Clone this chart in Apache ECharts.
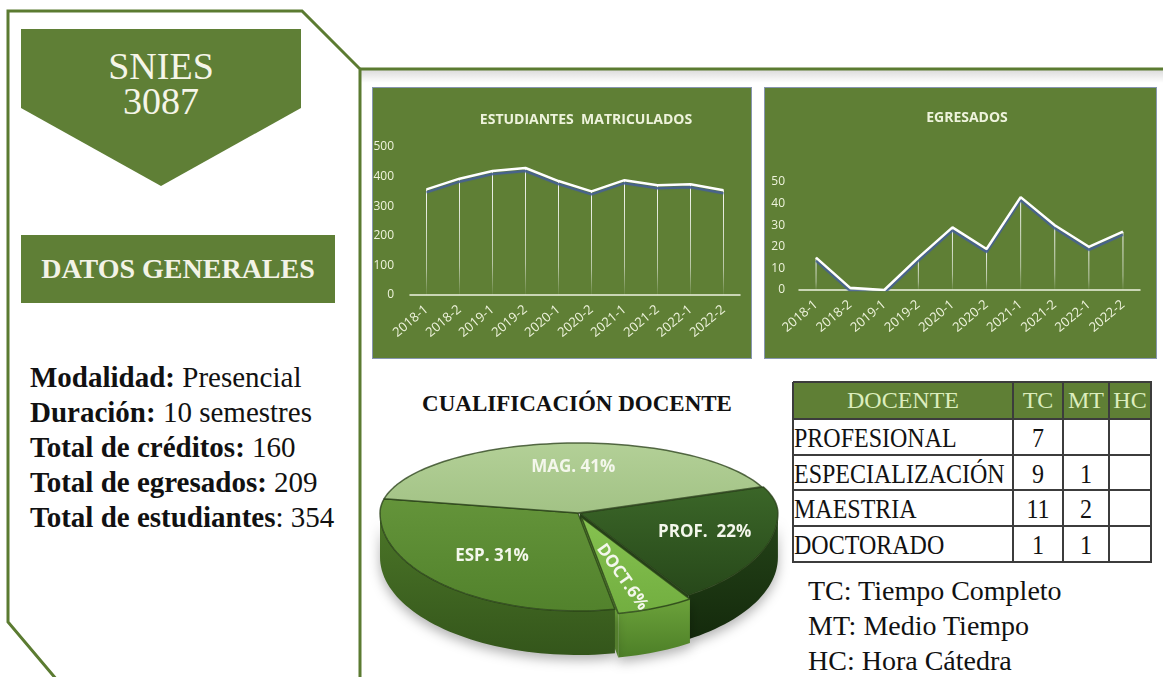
<!DOCTYPE html>
<html><head><meta charset="utf-8">
<script src="https://cdn.jsdelivr.net/npm/echarts@6/dist/echarts.min.js"></script>
<style>
html,body{margin:0;padding:0;background:#fff;}
#page{position:relative;width:1163px;height:677px;overflow:hidden;background:#fff;font-family:"Liberation Serif","Times New Roman",serif;color:#111;}
.abs{position:absolute;}
#chart{position:absolute;left:0;top:0;width:1163px;height:677px;z-index:5;}
.cell{position:absolute;font-size:24px;line-height:31px;padding-top:5px;box-sizing:border-box;white-space:nowrap;}
.cell span{display:inline-block;transform:scaleY(1.1);transform-origin:50% 80%;}
.hdr{position:absolute;font-size:24px;line-height:37px;color:#dcedbd;text-align:center;white-space:nowrap;}
.vl{position:absolute;width:1.6px;background:#3c3c3c;}
.hl{position:absolute;height:1.6px;background:#3c3c3c;}
</style></head><body>
<div id="page">
 <svg class="abs" width="1163" height="677" style="left:0;top:0">
   <defs><linearGradient id="sh" x1="0" y1="0" x2="0" y2="1"><stop offset="0" stop-color="#000" stop-opacity="0.14"/><stop offset="1" stop-color="#000" stop-opacity="0"/></linearGradient></defs>
   <rect x="361" y="70" width="802" height="13" fill="url(#sh)"/>
   <polyline points="57,680 8,622 8,11 302,11 360,69 360,680" fill="none" stroke="#5b7b31" stroke-width="3"/>
   <line x1="360" y1="69" x2="1163" y2="69" stroke="#5b7b31" stroke-width="3"/>
   <polygon points="21,29 301,29 301,108 161,186 21,108" fill="#5f7f36"/>
   <rect x="21" y="235" width="314" height="68" fill="#5f7f36"/>
   <rect x="372.5" y="87.5" width="379" height="271" fill="#5f7f35" stroke="#8796b0" stroke-width="1"/>
   <rect x="764.5" y="87.5" width="392" height="271" fill="#5f7f35" stroke="#8796b0" stroke-width="1"/>
 </svg>
 <div class="abs" style="left:21px;top:49px;width:280px;text-align:center;font-size:38px;line-height:35px;color:#f5f5e8;">SNIES<br>3087</div>
 <div class="abs" style="left:21px;top:235px;width:314px;text-align:center;font-size:28px;line-height:68px;font-weight:bold;color:#f3f3e6;">DATOS GENERALES</div>
 <div id="general" class="abs" style="left:30px;top:360px;font-size:29px;line-height:35px;white-space:nowrap;"></div>
 <div class="abs" style="left:377px;top:390px;width:400px;text-align:center;font-size:23px;line-height:28px;font-weight:bold;">CUALIFICACIÓN DOCENTE</div>
 <div id="table" class="abs" style="left:0;top:0;"></div>
 <div id="legend" class="abs" style="left:808px;top:573px;font-size:28px;line-height:35px;white-space:nowrap;"></div>
 <div id="chart"></div>
</div>
<script>
// ---------- data ----------
const semesters = ['2018-1','2018-2','2019-1','2019-2','2020-1','2020-2','2021-1','2021-2','2022-1','2022-2'];
const matriculados = [357, 393, 419, 429, 385, 350, 388, 371, 374, 354];
const egresados = [15, 1, 0, 15, 29, 19, 43, 30, 20, 27];
const matriculadosTicks = [0, 100, 200, 300, 400, 500];
const egresadosTicks = [0, 10, 20, 30, 40, 50];
const docenteRows = ['PROFESIONAL', 'ESPECIALIZACIÓN', 'MAESTRIA', 'DOCTORADO'];
const docenteCols = ['TC', 'MT', 'HC'];
const tiempoCompleto = [7, 9, 11, 1];
const medioTiempo = [null, 1, 2, 1];
const horaCatedra = [null, null, null, null];
const pieShortNames = ['PROF.', 'ESP.', 'MAG.', 'DOCT.'];
const generalLabels = ['Modalidad:', 'Duración:', 'Total de créditos:', 'Total de egresados:', 'Total de estudiantes'];
const generalValues = [' Presencial', ' 10 semestres', ' 160', ' 209', ': 354'];
const legendLines = ['TC: Tiempo Completo', 'MT: Medio Tiempo', 'HC: Hora Cátedra'];

// ---------- static text ----------
document.getElementById('general').innerHTML = generalLabels.map((l, i) => '<b>' + l + '</b>' + generalValues[i]).join('<br>');
document.getElementById('legend').innerHTML = legendLines.join('<br>');

// table layout (positions only)
const colX = [793, 1013, 1063, 1109, 1151];
const rowY = [382, 419, 455, 490, 526, 562];
(function buildTable(){
  const t = document.getElementById('table');
  let h = '<div class="abs" style="left:' + colX[0] + 'px;top:' + rowY[0] + 'px;width:' + (colX[4]-colX[0]) + 'px;height:' + (rowY[1]-rowY[0]) + 'px;background:#5f7f35;"></div>';
  const headers = ['DOCENTE'].concat(docenteCols);
  headers.forEach((txt, c) => {
    h += '<div class="hdr" style="left:' + colX[c] + 'px;top:' + rowY[0] + 'px;width:' + (colX[c+1]-colX[c]) + 'px;">' + txt + '</div>';
  });
  const cols = [tiempoCompleto, medioTiempo, horaCatedra];
  docenteRows.forEach((name, r) => {
    const top = rowY[r+1], hh = rowY[r+2] - rowY[r+1];
    h += '<div class="cell" style="left:' + (colX[0]+1) + 'px;top:' + top + 'px;height:' + hh + 'px;"><span>' + name + '</span></div>';
    cols.forEach((arr, c) => {
      const v = arr[r];
      h += '<div class="cell" style="left:' + colX[c+1] + 'px;top:' + top + 'px;width:' + (colX[c+2]-colX[c+1]) + 'px;height:' + hh + 'px;text-align:center;"><span>' + (v == null ? '' : v) + '</span></div>';
    });
  });
  colX.forEach(x => { h += '<div class="vl" style="left:' + (x-0.8) + 'px;top:' + rowY[0] + 'px;height:' + (rowY[5]-rowY[0]+1) + 'px;"></div>'; });
  rowY.forEach(y => { h += '<div class="hl" style="left:' + colX[0] + 'px;top:' + (y-0.8) + 'px;width:' + (colX[4]-colX[0]+1) + 'px;"></div>'; });
  t.innerHTML = h;
})();

// ---------- pie data (derived from the table) ----------
const pieValues = docenteRows.map((_, i) => (tiempoCompleto[i]||0) + (medioTiempo[i]||0) + (horaCatedra[i]||0));
const pieTotal = pieValues.reduce((a, b) => a + b, 0);
const pieOrder = [0, 3, 1, 2]; // drawing order: PROF, DOCT, ESP, MAG (clockwise)
const cumBefore = [];
pieOrder.reduce((acc, ri, k) => { cumBefore[k] = acc; return acc + pieValues[ri]; }, 0);

// ---------- styles ----------
const P = {cx: 578, cy: 513, rx: 198, ryB: 70, ryF: 98, depth: 44, start: -22};
const sliceStyle = [
  {top: ['#3b6628', '#27481a'], side: ['#254419', '#142a0c'], explode: 2, f: 0.66, dx: 0, dy: 0, rot: 0, sep: '  '},
  {top: ['#64943a', '#52822c'], side: ['#4c7628', '#34561b'], explode: 0, f: 0.63, dx: 3, dy: 0, rot: 0, sep: ' '},
  {top: ['#b3d097', '#a2c285'], side: ['#8fb06f', '#6f9050'], explode: 0, f: 0.66, dx: 7, dy: 0, rot: 0, sep: ' '},
  {top: ['#86c250', '#72ae40'], side: ['#6ca23b', '#4d7f27'], explode: 9, f: 0.55, dx: 0, dy: 10, rot: -55, sep: ''}
];
const labelColor = '#eef3dc';
const axisFont = '"Open Sans", "DejaVu Sans", sans-serif';

function ryAt(t) { return Math.sin(t * Math.PI / 180) > 0 ? P.ryF : P.ryB; }
function pt(t, ox, oy, dz) { const r = t * Math.PI / 180; return [P.cx + ox + P.rx * Math.cos(r), P.cy + oy + ryAt(t) * Math.sin(r) + dz]; }
function arc(a, b, ox, oy, dz) { const pts = []; const n = Math.max(2, Math.ceil(Math.abs(b - a) / 2)); for (let k = 0; k <= n; k++) pts.push(pt(a + (b - a) * k / n, ox, oy, dz)); return pts; }
function vgrad(c) { return new echarts.graphic.LinearGradient(0, 0, 0, 1, [{offset: 0, color: c[0]}, {offset: 1, color: c[1]}]); }

function renderPie(params, api) {
  const k = params.dataIndex;
  const v = api.value(0), ri = api.value(1);
  const st = sliceStyle[ri];
  const a0 = P.start + 360 * cumBefore[k] / pieTotal;
  const a1 = a0 + 360 * v / pieTotal;
  const midDeg = (a0 + a1) / 2, mid = midDeg * Math.PI / 180;
  const ox = st.explode * Math.cos(mid), oy = st.explode * Math.sin(mid) * ryAt(midDeg) / P.rx;
  const c = [P.cx + ox, P.cy + oy];
  const children = [];
  const shadow = {shadowBlur: 12, shadowColor: 'rgba(0,0,0,0.3)', shadowOffsetY: 5};
  if (st.explode > 0) {
    [[a0, Math.cos(a0 * Math.PI / 180) < 0], [a1, Math.cos(a1 * Math.PI / 180) > 0]].forEach(function (f) {
      if (!f[1]) return;
      const rt = pt(f[0], ox, oy, 0), rb = pt(f[0], ox, oy, P.depth);
      children.push({type: 'polygon', z2: 1, shape: {points: [c, rt, rb, [c[0], c[1] + P.depth]]}, style: {fill: st.side[0]}});
    });
  }
  [[0, 180], [360, 540], [-360, -180]].forEach(function (rg) {
    const s = Math.max(a0, rg[0]), e = Math.min(a1, rg[1]);
    if (e > s) {
      const topA = arc(s, e, ox, oy, 0), botA = arc(e, s, ox, oy, P.depth);
      children.push({type: 'polygon', z2: 2, shape: {points: topA.concat(botA)}, style: Object.assign({fill: vgrad(st.side)}, shadow)});
    }
  });
  children.push({type: 'polygon', z2: 10, shape: {points: [c].concat(arc(a0, a1, ox, oy, 0))},
    style: {fill: vgrad(st.top), stroke: 'rgba(38,60,22,0.75)', lineWidth: 1.5, lineJoin: 'round'}});
  const pct = Math.round(v / pieTotal * 100);
  children.push({type: 'text', z2: 20,
    x: c[0] + P.rx * st.f * Math.cos(mid) + st.dx, y: c[1] + ryAt(midDeg) * st.f * Math.sin(mid) + st.dy,
    rotation: st.rot * Math.PI / 180,
    style: {text: pieShortNames[ri] + st.sep + pct + '%', fill: '#f4f7ec', fontSize: 17, fontWeight: 'bold', fontFamily: axisFont, align: 'center', verticalAlign: 'middle'}});
  return {type: 'group', children: children};
}

// ---------- charts ----------
const chart = echarts.init(document.getElementById('chart'), null, {renderer: 'canvas'});
const dropColor = new echarts.graphic.LinearGradient(0, 0, 0, 1, [
  {offset: 0, color: 'rgba(255,255,255,0.95)'}, {offset: 0.75, color: 'rgba(255,255,255,0.55)'}, {offset: 1, color: 'rgba(255,255,255,0.05)'}]);
const lineStyle = {color: '#ffffff', width: 2.5, shadowColor: 'rgba(70,96,150,0.95)', shadowBlur: 1, shadowOffsetY: 3};
function xAxis(idx) {
  return {gridIndex: idx, type: 'category', data: semesters, boundaryGap: true,
    axisLine: {lineStyle: {color: '#eef3e0', width: 1.5}}, axisTick: {show: false},
    axisLabel: {rotate: 40, interval: 0, color: labelColor, fontSize: 13, margin: 13, fontFamily: axisFont}};
}
function yAxis(idx, ticks, margin) {
  return {gridIndex: idx, type: 'value', min: ticks[0], max: ticks[ticks.length - 1], interval: ticks[1] - ticks[0],
    axisLine: {show: false}, axisTick: {show: false}, splitLine: {show: false},
    axisLabel: {color: labelColor, fontSize: 12, margin: margin, fontFamily: axisFont}};
}
chart.setOption({
  animation: false,
  grid: [{left: 410, top: 147, width: 330, height: 148}, {left: 799, top: 182, width: 341, height: 108}],
  xAxis: [xAxis(0), xAxis(1)],
  yAxis: [yAxis(0, matriculadosTicks, 16), yAxis(1, egresadosTicks, 14)],
  graphic: [
    {type: 'text', x: 586, y: 120, style: {text: 'ESTUDIANTES  MATRICULADOS', fill: '#eef3dc', fontSize: 14, fontWeight: 'bold', fontFamily: axisFont, align: 'center', verticalAlign: 'middle'}},
    {type: 'text', x: 967, y: 118, style: {text: 'EGRESADOS', fill: '#eef3dc', fontSize: 14, fontWeight: 'bold', fontFamily: axisFont, align: 'center', verticalAlign: 'middle'}}
  ],
  series: [
    {type: 'bar', xAxisIndex: 0, yAxisIndex: 0, data: matriculados, barWidth: 1, itemStyle: {color: dropColor}, z: 2, silent: true},
    {type: 'line', xAxisIndex: 0, yAxisIndex: 0, data: matriculados, symbol: 'none', lineStyle: lineStyle, z: 3},
    {type: 'bar', xAxisIndex: 1, yAxisIndex: 1, data: egresados, barWidth: 1, itemStyle: {color: dropColor}, z: 2, silent: true},
    {type: 'line', xAxisIndex: 1, yAxisIndex: 1, data: egresados, symbol: 'none', lineStyle: lineStyle, z: 3},
    {type: 'custom', coordinateSystem: 'none', renderItem: renderPie, data: pieOrder.map(ri => [pieValues[ri], ri]), z: 4}
  ]
});
</script>
</body></html>
